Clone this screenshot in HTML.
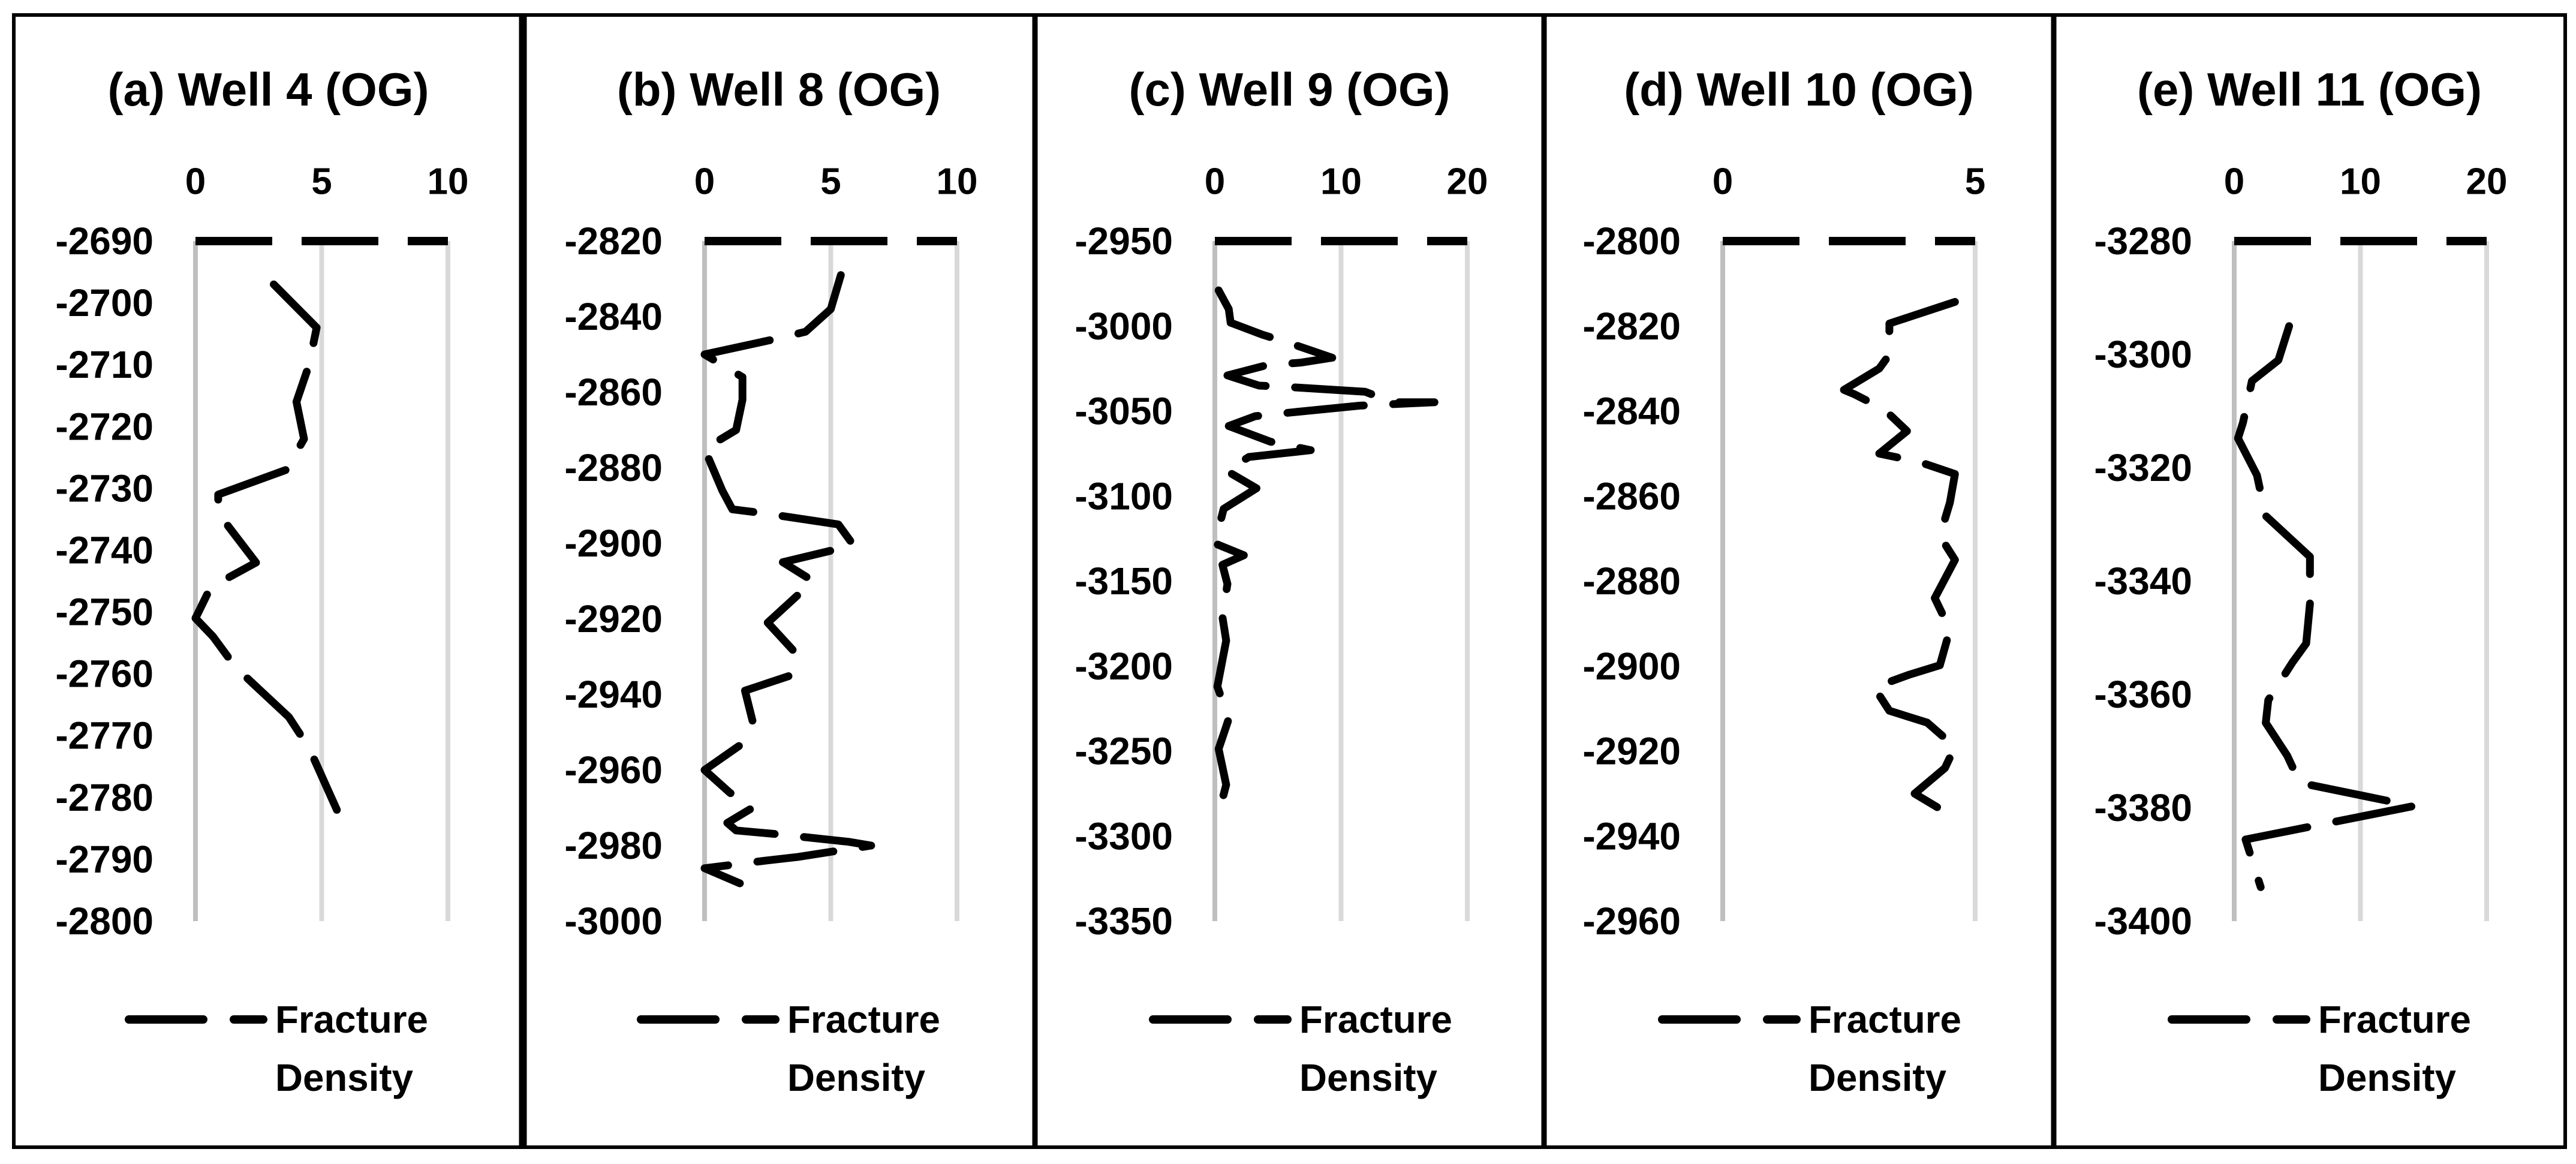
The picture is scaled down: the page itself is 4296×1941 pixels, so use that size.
<!DOCTYPE html>
<html><head><meta charset="utf-8"><style>html,body{margin:0;padding:0;background:#fff}svg{display:block}text{font-family:"Liberation Sans",sans-serif;font-weight:bold;fill:#000}</style></head>
<body>
<svg id="fig" xmlns="http://www.w3.org/2000/svg" width="4296" height="1941" viewBox="0 0 4296 1941">
<rect x="23" y="25" width="4255" height="1888" fill="#fff" stroke="#000" stroke-width="6"/>
</svg>
<script>
// Panel (a) Well 4
const titlesArr = ["(a) Well 4 (OG)","(b) Well 8 (OG)","(c) Well 9 (OG)","(d) Well 10 (OG)","(e) Well 11 (OG)"];
const xTicksA = [0,5,10];
const yTicksA = [-2690,-2700,-2710,-2720,-2730,-2740,-2750,-2760,-2770,-2780,-2790,-2800];
const depthA = [-2697,-2704,-2710,-2716,-2722,-2727,-2731,-2734,-2742,-2746,-2751,-2754,-2759,-2767,-2772,-2782];
const densA  = [3.1,4.8,4.5,4.0,4.3,3.6,0.9,0.9,2.4,0.6,0.0,0.7,1.6,3.7,4.5,5.6];
// Panel (b) Well 8
const xTicksB = [0,5,10];
const yTicksB = [-2820,-2840,-2860,-2880,-2900,-2920,-2940,-2960,-2980,-3000];
const depthB = [-2829,-2838,-2844,-2846,-2850,-2856,-2862,-2870,-2875,-2886,-2891,-2892,-2895,-2900.5,-2905,-2910,-2921,-2929,-2935,-2939,-2947,-2953,-2960,-2966,-2970,-2974,-2976,-2977,-2979,-2980,-2983,-2984,-2986,-2990];
const densB  = [5.4,5.0,4.0,2.75,0,1.5,1.5,1.25,0,0.7,1.1,2.3,5.3,5.9,3.1,4.3,2.5,3.6,3.4,1.6,1.9,1.5,0,1.0,1.9,0.9,1.25,2.9,5.7,6.6,3.7,2.4,0,1.4];
// Panel (c) Well 9
const xTicksC = [0,10,20];
const yTicksC = [-2950,-3000,-3050,-3100,-3150,-3200,-3250,-3300,-3350];
const depthC = [-2979,-2990,-2998,-3005,-3011,-3018.6,-3021.5,-3023,-3029,-3035,-3036,-3038.6,-3044.8,-3044.8,-3046.8,-3051,-3053,-3058.8,-3068,-3073,-3077,-3085,-3095.4,-3107.5,-3127.8,-3134.8,-3140.4,-3151.7,-3171,-3185,-3212,-3231,-3248.7,-3269.8,-3289.6];
const densC  = [0.3,1.1,1.25,3.75,6.3,9.3,6.8,4.1,1.0,3.5,6.2,11.9,14.1,17.4,11.5,5.8,3.2,1.1,4.4,7.6,2.7,0.9,3.3,0.7,0,2.3,0.6,1.0,0.6,0.9,0.2,1.1,0.3,0.9,0.2];
// Panel (d) Well 10
const xTicksD = [0,5];
const yTicksD = [-2800,-2820,-2840,-2860,-2880,-2900,-2920,-2940,-2960];
const depthD = [-2814.3,-2819.4,-2826.7,-2830,-2835,-2836,-2839.6,-2844.7,-2850,-2852,-2854.8,-2861.5,-2869.4,-2875,-2884,-2891.4,-2899.8,-2902,-2905,-2910.5,-2913.3,-2919,-2924,-2930,-2935];
const densD  = [4.6,3.3,3.3,3.1,2.4,2.6,3.2,3.65,3.1,3.9,4.6,4.5,4.3,4.6,4.2,4.5,4.3,3.7,3.0,3.3,4.05,4.6,4.4,3.8,4.5];
// Panel (e) Well 11
const xTicksE = [0,10,20];
const yTicksE = [-3280,-3300,-3320,-3340,-3360,-3380,-3400];
const depthE = [-3295,-3301,-3304.7,-3312,-3314.8,-3321.3,-3328.5,-3335.7,-3344,-3351,-3354.4,-3361,-3365,-3370.8,-3375.6,-3379.7,-3385.6,-3394];
const densE  = [4.35,3.5,1.4,0.7,0.3,1.8,2.5,6.0,6.0,5.7,4.6,2.7,2.5,4.2,5.2,14.2,0.9,2.1];

const panels = [
 {x0:326, xTicks:xTicksA, yTicks:yTicksA, depth:depthA, dens:densA},
 {x0:1175,xTicks:xTicksB, yTicks:yTicksB, depth:depthB, dens:densB},
 {x0:2026,xTicks:xTicksC, yTicks:yTicksC, depth:depthC, dens:densC},
 {x0:2873,xTicks:xTicksD, yTicks:yTicksD, depth:depthD, dens:densD},
 {x0:3726,xTicks:xTicksE, yTicks:yTicksE, depth:depthE, dens:densE}
];
const panelLefts=[23,872,1726,2575,3425,4278];
const NS="http://www.w3.org/2000/svg";
const svg=document.getElementById('fig');
function mk(tag,attrs,parent){const e=document.createElementNS(NS,tag);for(const k in attrs)e.setAttribute(k,attrs[k]);(parent||svg).appendChild(e);return e;}
// dividers
for(let i=1;i<5;i++){
 const d=mk('line',{x1:panelLefts[i],y1:25,x2:panelLefts[i],y2:1913,stroke:'#000','stroke-width':i===1?13:9});
 
 
}
const W=421, YT=402, YB=1536;
panels.forEach((p,i)=>{
 const g=mk('g',{});
 
 
 const xmax=p.xTicks[p.xTicks.length-1];
 const ymin=p.yTicks[0], ymax=p.yTicks[p.yTicks.length-1];
 const xs=v=>p.x0+v/xmax*W;
 const ys=v=>YT+(v-ymin)/(ymax-ymin)*(YB-YT);
 const cx=(panelLefts[i]+panelLefts[i+1])/2;
 const t=mk('text',{x:cx,y:149,'font-size':78,'text-anchor':'middle','dominant-baseline':'central'},g);
 t.textContent=titlesArr[i];
 
 
 p.xTicks.forEach((v,j)=>{
  const l=mk('line',{x1:xs(v),y1:YT,x2:xs(v),y2:YB,stroke:j===0?'#bfbfbf':'#d9d9d9','stroke-width':8},g);
  
  
  const tl=mk('text',{x:xs(v),y:303,'font-size':62,'text-anchor':'middle','dominant-baseline':'central'},g);
  tl.textContent=v;
  
  
 });
 p.yTicks.forEach(v=>{
  const tl=mk('text',{x:p.x0-70,y:ys(v),'font-size':64,'text-anchor':'end','dominant-baseline':'central'},g);
  tl.textContent=v;
  
  
 });
 const ax=mk('line',{x1:p.x0,y1:YT,x2:p.x0+W,y2:YT,stroke:'#000','stroke-width':14,'stroke-dasharray':'128 49'},g);
 
 
 const pts=p.depth.map((d,k)=>xs(p.dens[k]).toFixed(1)+','+ys(d).toFixed(1)).join(' ');
 const pl=mk('polyline',{points:pts,fill:'none',stroke:'#000','stroke-width':13,'stroke-dasharray':'128 49','stroke-linejoin':'round','stroke-linecap':'round'},g);
 
 
 const off=panelLefts[i]+(i===0?0:5);
 const lg=mk('g',{},g);
 
 
 mk('line',{x1:off+192,y1:1700,x2:off+316,y2:1700,stroke:'#000','stroke-width':14,'stroke-linecap':'round'},lg);
 mk('line',{x1:off+367,y1:1700,x2:off+416,y2:1700,stroke:'#000','stroke-width':14,'stroke-linecap':'round'},lg);
 const f=mk('text',{x:off+436,y:1700,'font-size':64,'dominant-baseline':'central',textLength:255,lengthAdjust:'spacingAndGlyphs'},lg);
 f.textContent='Fracture';
 
 
 const dd=mk('text',{x:off+436,y:1797,'font-size':64,'dominant-baseline':'central',textLength:230,lengthAdjust:'spacingAndGlyphs'},lg);
 dd.textContent='Density';
 
 
});
</script>
</body></html>
